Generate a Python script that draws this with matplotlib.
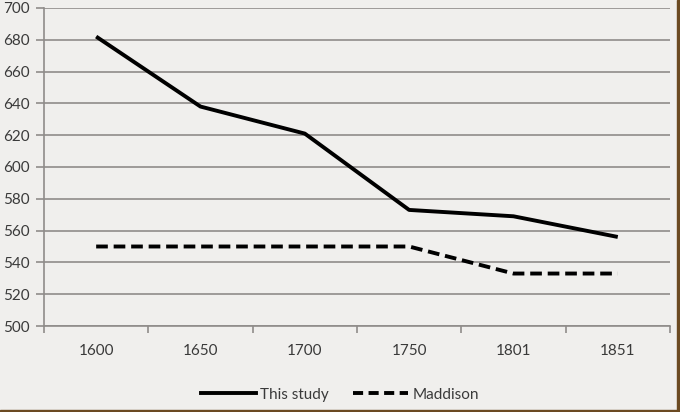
import matplotlib
matplotlib.use("Agg")
import matplotlib.pyplot as plt
from matplotlib.lines import Line2D
from matplotlib.patches import Rectangle

years = ["1600", "1650", "1700", "1750", "1801", "1851"]
this_study = [682, 638, 621, 573, 569, 556]
maddison = [550, 550, 550, 550, 533, 533]
y_ticks = list(range(500, 701, 20))

plt.rcParams['font.family'] = ['Lato', 'DejaVu Sans']
text_color = '#3a3a3a'
grid_color = '#8f8c8a'
bg = '#f0efed'
fs = 11

fig = plt.figure(figsize=(6.8, 4.12), dpi=100, facecolor=bg)
ax = fig.add_axes([0.0647, 0.2087, 0.9205, 0.772])
ax.set_facecolor(bg)

x = list(range(len(years)))
ax.plot(x, this_study, color='black', lw=2.8, solid_capstyle='butt', label='This study', zorder=3)
ax.plot(x, maddison, color='black', lw=2.8, ls=(0, (3.0, 1.5)), label='Maddison', zorder=3)

ax.set_xlim(-0.5, len(years) - 0.5)
ax.set_ylim(500, 700)
ax.set_yticks(y_ticks)
ax.set_yticklabels([str(v) for v in y_ticks])
ax.set_xticks(x)
ax.set_xticklabels(years)
ax.set_xticks([i - 0.5 for i in range(len(years) + 1)], minor=True)
ax.tick_params(axis='x', which='major', length=0, pad=13, labelsize=fs, colors=text_color)
ax.tick_params(axis='x', which='minor', length=5, color=grid_color, width=1.2, direction='out')
ax.tick_params(axis='y', length=6, color=grid_color, width=1.2, labelsize=fs, colors=text_color, pad=4)
for lab in ax.get_xticklabels() + ax.get_yticklabels():
    lab.set_color(text_color)

ax.grid(axis='y', color=grid_color, lw=1.2)
ax.set_axisbelow(True)
for s in ['top', 'right']:
    ax.spines[s].set_visible(False)
ax.spines['left'].set_color(grid_color)
ax.spines['bottom'].set_color(grid_color)
ax.spines['left'].set_linewidth(1.2)
ax.spines['bottom'].set_linewidth(1.2)

handles = [Line2D([], [], color='black', lw=2.8),
           Line2D([], [], color='black', lw=2.8, ls=(0, (2.6, 1.4)))]
leg = fig.legend(handles, ['This study', 'Maddison'], loc='center', bbox_to_anchor=(0.5, 0.042),
                 ncol=2, frameon=False, fontsize=fs, handlelength=3.6, handletextpad=0.3,
                 columnspacing=1.6, labelcolor=text_color)

# brown frame edges at right and bottom
fig.patches.append(Rectangle((0.995, 0), 0.005, 1, transform=fig.transFigure, color='#6b4a22', zorder=10))
fig.patches.append(Rectangle((0, 0), 1, 0.006, transform=fig.transFigure, color='#6b4a22', zorder=10))

fig.savefig('out.png', dpi=100, facecolor=bg)
